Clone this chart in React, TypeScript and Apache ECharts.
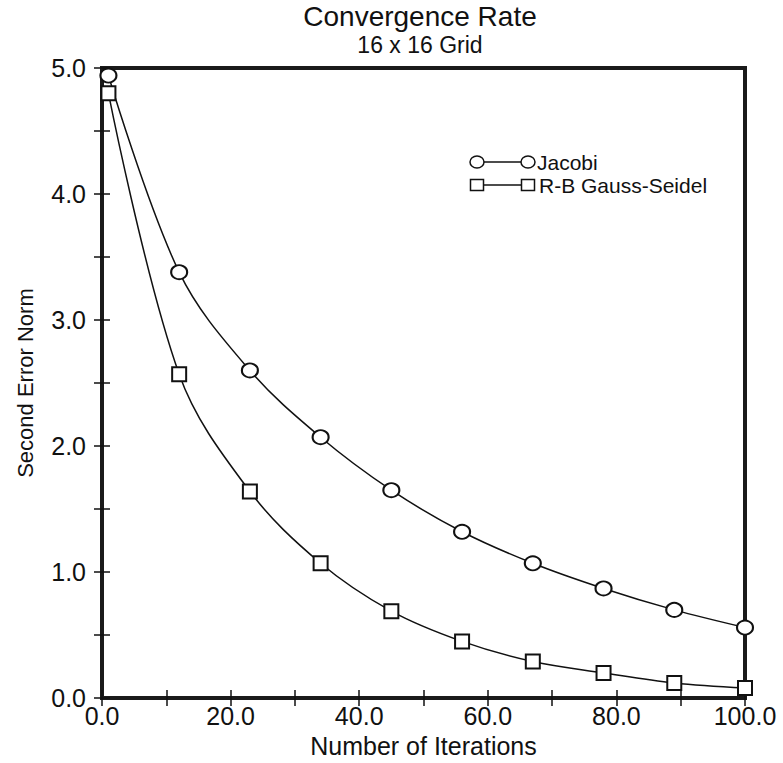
import React, { useEffect, useRef } from "react";
import * as echarts from "echarts";

const titleText = "Convergence Rate";
const subtitleText = "16 x 16 Grid";
const xAxisName = "Number of Iterations";
const yAxisName = "Second Error Norm";
const seriesNames = ["Jacobi", "R-B Gauss-Seidel"];
const iterations = [1, 12, 23, 34, 45, 56, 67, 78, 89, 100];
const jacobi = [4.94, 3.38, 2.6, 2.07, 1.65, 1.32, 1.07, 0.87, 0.7, 0.56];
const gaussSeidel = [4.8, 2.57, 1.64, 1.07, 0.69, 0.45, 0.29, 0.2, 0.12, 0.08];

const FONT = "'Liberation Sans', Arial, Helvetica, sans-serif";
const INK = "#111";

export default function App() {
  const ref = useRef<HTMLDivElement>(null);
  useEffect(() => {
    document.body.style.margin = "0";
    const chart = echarts.init(ref.current!, null, { renderer: "svg" });
    const pairs = (ys: number[]) => iterations.map((x, i) => [x, ys[i]]);
    const axisCommon = {
      type: "value",
      axisLine: { show: false },
      splitLine: { show: false },
      axisTick: { show: true, inside: true, length: 8, lineStyle: { color: INK, width: 1.5 } },
    };
    chart.setOption({
      animation: false,
      backgroundColor: "#fff",
      title: [
        {
          text: titleText,
          left: 420,
          top: 2,
          padding: 0,
          textAlign: "center",
          textStyle: { fontFamily: FONT, fontSize: 28, fontWeight: "normal", color: INK },
        },
        {
          text: subtitleText,
          left: 420,
          top: 33,
          padding: 0,
          textAlign: "center",
          textStyle: { fontFamily: FONT, fontSize: 23, fontWeight: "normal", color: INK },
        },
      ],
      grid: {
        left: 102,
        right: 38,
        top: 68,
        bottom: 57,
        show: true,
        borderWidth: 4,
        borderColor: "#1a1a1a",
        backgroundColor: "transparent",
      },
      xAxis: [
        {
          ...axisCommon,
          min: 0,
          max: 100,
          interval: 10,
          position: "bottom",
          name: xAxisName,
          nameLocation: "middle",
          nameGap: 29,
          nameTextStyle: { fontFamily: FONT, fontSize: 25, color: INK },
          axisLabel: {
            margin: 5,
            fontFamily: FONT,
            fontSize: 25,
            color: INK,
            formatter: (v: number) => (v % 20 === 0 ? v.toFixed(1) : ""),
          },
        },
        {
          ...axisCommon,
          min: 0,
          max: 100,
          interval: 10,
          position: "top",
          axisLabel: { show: false },
        },
      ],
      yAxis: [
        {
          ...axisCommon,
          min: 0,
          max: 5,
          interval: 0.5,
          position: "left",
          name: yAxisName,
          nameLocation: "middle",
          nameGap: 66,
          nameTextStyle: { fontFamily: FONT, fontSize: 22, color: INK },
          axisLabel: {
            margin: 16,
            fontFamily: FONT,
            fontSize: 25,
            color: INK,
            formatter: (v: number) => (Math.abs(v - Math.round(v)) < 1e-9 ? v.toFixed(1) : ""),
          },
        },
        {
          ...axisCommon,
          min: 0,
          max: 5,
          interval: 0.5,
          position: "right",
          axisLabel: { show: false },
        },
      ],
      series: [
        {
          name: seriesNames[0],
          type: "line",
          data: pairs(jacobi),
          smooth: 0.35,
          symbol: "emptyCircle",
          symbolSize: [16, 14],
          lineStyle: { color: INK, width: 1.5 },
          itemStyle: { color: INK, borderColor: INK, borderWidth: 1.5 },
          z: 3,
        },
        {
          name: seriesNames[1],
          type: "line",
          data: pairs(gaussSeidel),
          smooth: 0.35,
          symbol: "emptyRect",
          symbolSize: 14,
          lineStyle: { color: INK, width: 1.5 },
          itemStyle: { color: INK, borderColor: INK, borderWidth: 1.5 },
          z: 3,
        },
      ],
      graphic: [
        { type: "line", shape: { x1: 484, y1: 162, x2: 521, y2: 162 }, style: { stroke: INK, lineWidth: 1.5 } },
        { type: "ellipse", shape: { cx: 477, cy: 162, rx: 7, ry: 6 }, style: { fill: "#fff", stroke: INK, lineWidth: 1.5 } },
        { type: "ellipse", shape: { cx: 528, cy: 162, rx: 7, ry: 6 }, style: { fill: "#fff", stroke: INK, lineWidth: 1.5 } },
        {
          type: "text",
          x: 537,
          y: 162,
          style: { text: seriesNames[0], fontFamily: FONT, fontSize: 21, fill: INK, verticalAlign: "middle", align: "left" },
        },
        { type: "line", shape: { x1: 483, y1: 185, x2: 522, y2: 185 }, style: { stroke: INK, lineWidth: 1.5 } },
        { type: "rect", shape: { x: 470.5, y: 179.5, width: 13, height: 11 }, style: { fill: "#fff", stroke: INK, lineWidth: 1.5 } },
        { type: "rect", shape: { x: 521.5, y: 179.5, width: 13, height: 11 }, style: { fill: "#fff", stroke: INK, lineWidth: 1.5 } },
        {
          type: "text",
          x: 539,
          y: 185,
          style: { text: seriesNames[1], fontFamily: FONT, fontSize: 21, fill: INK, verticalAlign: "middle", align: "left" },
        },
      ],
    });
    return () => chart.dispose();
  }, []);
  return <div ref={ref} style={{ width: 783, height: 763 }} />;
}
